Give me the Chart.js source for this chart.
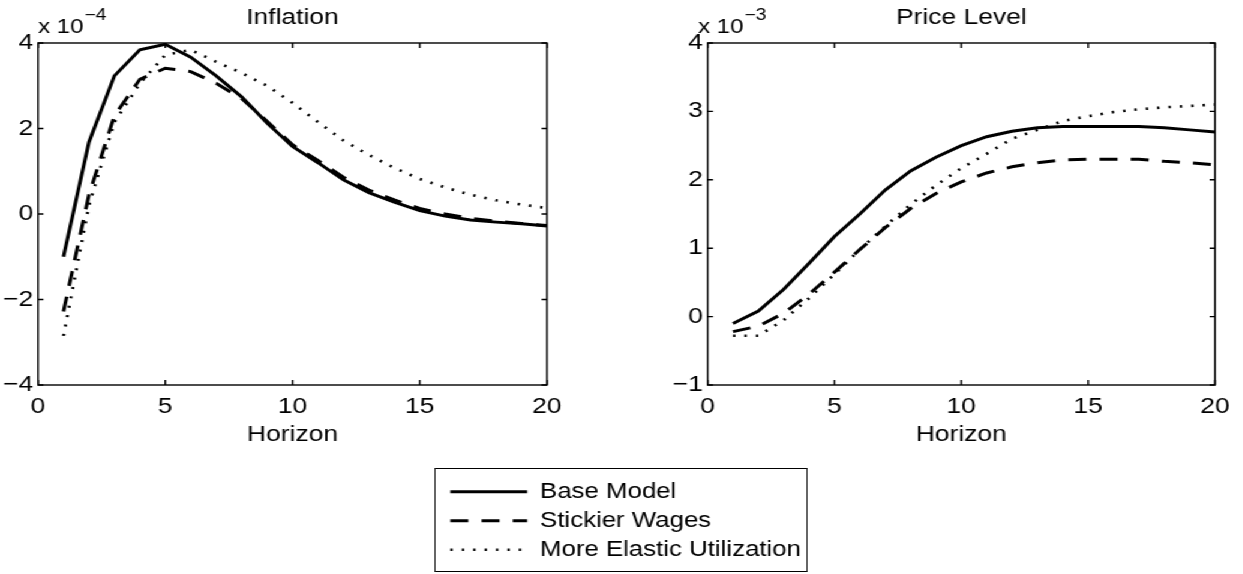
<!DOCTYPE html>
<html>
<head>
<meta charset="utf-8">
<title>Inflation and Price Level</title>
<script src="https://cdn.jsdelivr.net/npm/chart.js@4.4.0/dist/chart.umd.min.js"></script>
<style>
  html, body { margin: 0; padding: 0; background: #fff; overflow: hidden; }
  /* the reference figure is stretched sideways, so the whole stage is too */
  #stage { position: absolute; left: 0; top: 0; width: 1036px; height: 574px; transform: scaleX(1.2); transform-origin: 0 0; }
  .box { position: absolute; }
  #leftBox { left: 0; top: 0; width: 500px; height: 460px; }
  #rightBox { left: 540px; top: 0; width: 496px; height: 460px; }
  #legendBox { left: 361.7px; top: 468px; width: 311.6px; height: 104px; border: 1.5px solid #000; box-sizing: border-box; }
</style>
</head>
<body>
<div id="stage">
  <div class="box" id="leftBox"><canvas id="inflationChart"></canvas></div>
  <div class="box" id="rightBox"><canvas id="priceChart"></canvas></div>
  <div class="box" id="legendBox"><canvas id="legendChart"></canvas></div>
</div>
<script>
const FONT = "'Liberation Sans', Arial, Helvetica, sans-serif";

// ========== Data ==========
const horizon = [1, 2, 3, 4, 5, 6, 7, 8, 9, 10, 11, 12, 13, 14, 15, 16, 17, 18, 19, 20];
const seriesNames = ["Base Model", "Stickier Wages", "More Elastic Utilization"];

// inflation, x 10^-4
const inflBase = [-1.0, 1.68, 3.23, 3.84, 3.97, 3.67, 3.23, 2.74, 2.13, 1.58, 1.2, 0.8, 0.5, 0.28, 0.08, -0.05, -0.14, -0.19, -0.23, -0.28];
const inflSticky = [-2.28, 0.45, 2.3, 3.15, 3.41, 3.33, 3.06, 2.7, 2.17, 1.62, 1.25, 0.86, 0.56, 0.33, 0.13, 0.0, -0.1, -0.17, -0.22, -0.27];
const inflElastic = [-2.85, 0.2, 2.15, 3.05, 3.72, 3.84, 3.56, 3.3, 3.0, 2.6, 2.15, 1.72, 1.38, 1.08, 0.82, 0.62, 0.45, 0.32, 0.22, 0.14];

// price level, x 10^-3
const priceBase = [-0.1, 0.08, 0.4, 0.78, 1.17, 1.5, 1.85, 2.13, 2.33, 2.5, 2.63, 2.71, 2.76, 2.78, 2.78, 2.78, 2.78, 2.76, 2.73, 2.7];
const priceSticky = [-0.22, -0.14, 0.05, 0.33, 0.65, 0.98, 1.3, 1.58, 1.8, 1.97, 2.1, 2.19, 2.25, 2.29, 2.3, 2.3, 2.3, 2.27, 2.25, 2.22];
const priceElastic = [-0.28, -0.28, -0.05, 0.27, 0.62, 0.98, 1.32, 1.64, 1.92, 2.17, 2.38, 2.6, 2.73, 2.86, 2.93, 2.99, 3.03, 3.06, 3.08, 3.1];

// ========== Styles ==========
const lineStyles = [
  { borderWidth: 3, borderDash: [] },
  { borderWidth: 3, borderDash: [15, 11] },
  { borderWidth: 2.6, borderDash: [2, 7.5] },
];

Chart.defaults.font.family = FONT;
Chart.defaults.color = "#000";
Chart.defaults.animation = false;

const minus = (v) => String(v).replace("-", "\u2212");

// Matlab style box: frame, inward ticks, title and exponent label
const matlabAxes = {
  id: "matlabAxes",
  afterDatasetsDraw(chart, args, opts) {
    const { ctx, chartArea: a, scales } = chart;
    ctx.save();
    ctx.strokeStyle = "#000";
    ctx.lineWidth = 1.4;
    ctx.setLineDash([]);
    ctx.strokeRect(a.left, a.top, a.right - a.left, a.bottom - a.top);
    ctx.beginPath();
    scales.x.ticks.forEach((t) => {
      const px = scales.x.getPixelForValue(t.value);
      ctx.moveTo(px, a.bottom);
      ctx.lineTo(px, a.bottom - 5);
      ctx.moveTo(px, a.top);
      ctx.lineTo(px, a.top + 5);
    });
    scales.y.ticks.forEach((t) => {
      const py = scales.y.getPixelForValue(t.value);
      ctx.moveTo(a.left, py);
      ctx.lineTo(a.left + 4.5, py);
      ctx.moveTo(a.right, py);
      ctx.lineTo(a.right - 4.5, py);
    });
    ctx.stroke();

    ctx.fillStyle = "#000";
    ctx.font = "22px " + FONT;
    ctx.textAlign = "center";
    ctx.textBaseline = "middle";
    ctx.fillText(opts.title, (a.left + a.right) / 2, 18);

    ctx.textAlign = "left";
    ctx.textBaseline = "alphabetic";
    ctx.font = "20px " + FONT;
    const ex = a.left + opts.expDx;
    ctx.fillText("x 10", ex, 33);
    const w = ctx.measureText("x 10").width;
    ctx.font = "16px " + FONT;
    ctx.fillText(minus(opts.exponent), ex + w + 1, 20);
    ctx.restore();
  },
};

function makeDatasets(values) {
  return values.map((vals, i) => ({
    label: seriesNames[i],
    data: horizon.map((h, j) => ({ x: h, y: vals[j] })),
    borderColor: "#000",
    borderWidth: lineStyles[i].borderWidth,
    borderDash: lineStyles[i].borderDash,
    pointRadius: 0,
    tension: 0,
    fill: false,
  }));
}

function makePanel(canvasId, values, yMin, yMax, yStep, yWidth, padRight, title, exponent, expDx) {
  return new Chart(document.getElementById(canvasId), {
    type: "line",
    data: { datasets: makeDatasets(values) },
    plugins: [matlabAxes],
    options: {
      responsive: true,
      maintainAspectRatio: false,
      layout: { padding: { top: 43, right: padRight, left: 0, bottom: 0 } },
      plugins: {
        legend: { display: false },
        tooltip: { enabled: false },
        matlabAxes: { title: title, exponent: exponent, expDx: expDx },
      },
      scales: {
        x: {
          type: "linear",
          min: 0,
          max: 20,
          grid: { display: false, drawTicks: false },
          border: { display: false },
          ticks: { stepSize: 5, padding: 9, font: { size: 22 }, maxRotation: 0 },
          title: { display: true, text: "Horizon", font: { size: 22 }, padding: { top: 0, bottom: 12 } },
          afterFit: (scale) => { scale.height = 75; },
        },
        y: {
          min: yMin,
          max: yMax,
          grid: { display: false, drawTicks: false },
          border: { display: false },
          ticks: { stepSize: yStep, padding: 4, font: { size: 22 }, callback: (v) => minus(v) },
          afterFit: (scale) => { scale.width = yWidth; },
        },
      },
    },
  });
}

makePanel("inflationChart", [inflBase, inflSticky, inflElastic], -4, 4, 2, 31.7, 44.2, "Inflation", "-4", 0);
makePanel("priceChart", [priceBase, priceSticky, priceElastic], -1, 4, 1, 49.7, 23.5, "Price Level", "-3", -8);

// ========== Legend ==========
new Chart(document.getElementById("legendChart"), {
  type: "line",
  data: {
    datasets: seriesNames.map((name, i) => ({
      label: name,
      data: [],
      borderColor: "#000",
      borderWidth: lineStyles[i].borderWidth,
      borderDash: lineStyles[i].borderDash,
    })),
  },
  options: {
    responsive: true,
    maintainAspectRatio: false,
    layout: { padding: { top: 4.5, left: 4.8, right: 0, bottom: 0 } },
    scales: { x: { display: false }, y: { display: false } },
    plugins: {
      tooltip: { enabled: false },
      legend: {
        display: true,
        position: "top",
        align: "start",
        maxHeight: 100,
        labels: {
          usePointStyle: true,
          pointStyleWidth: 64,
          padding: 7.5,
          color: "#000",
          font: { size: 21.5 },
          generateLabels: (chart) =>
            chart.data.datasets.map((ds, i) => ({
              text: ds.label,
              fillStyle: "#000",
              strokeStyle: "#000",
              fontColor: "#000",
              lineWidth: ds.borderWidth,
              lineDash: ds.borderDash,
              pointStyle: "line",
              hidden: false,
              datasetIndex: i,
            })),
        },
      },
    },
  },
});
</script>
</body>
</html>
